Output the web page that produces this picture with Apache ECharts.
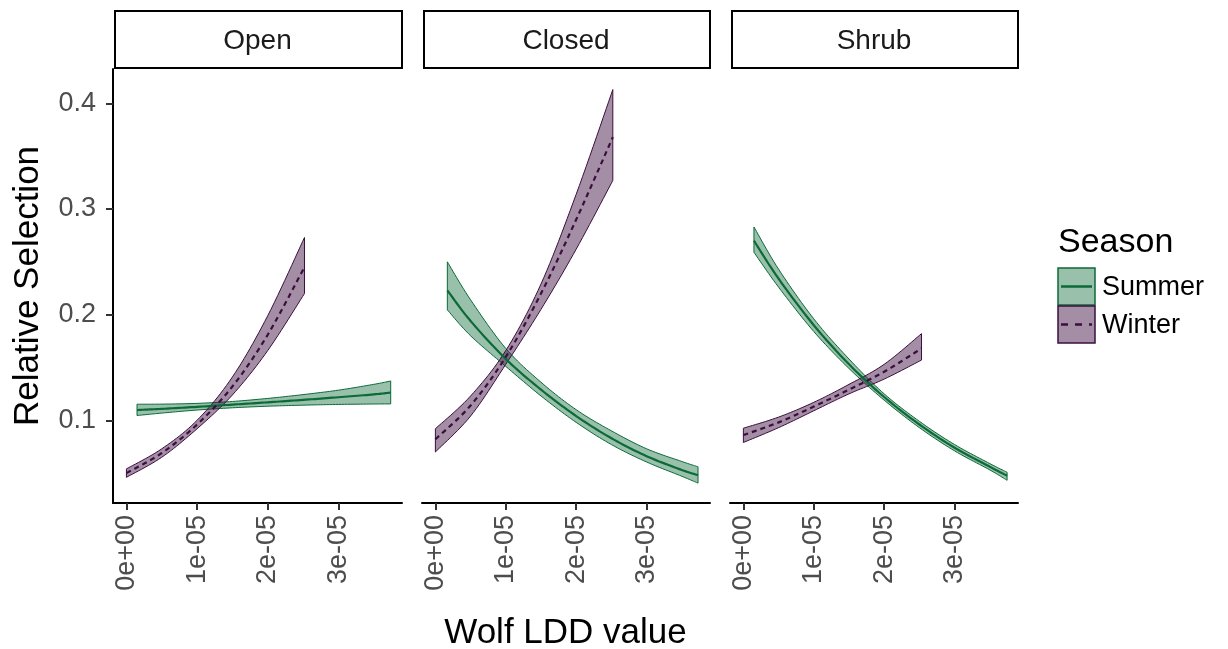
<!DOCTYPE html>
<html><head><meta charset="utf-8">
<script src="https://cdn.jsdelivr.net/npm/echarts@6/dist/echarts.min.js"></script>
<style>html,body{margin:0;padding:0;background:#fff}#c{width:1228px;height:649px}</style>
</head><body><div id="c"></div>
<script>
const panels = ['Open', 'Closed', 'Shrub'];
const seasons = ['Summer', 'Winter'];
const xTickValues = [0, 1e-5, 2e-5, 3e-5];
const xTickLabels = ['0e+00', '1e-05', '2e-05', '3e-05'];
const yTickValues = [0.1, 0.2, 0.3, 0.4];
const yTickLabels = ['0.1', '0.2', '0.3', '0.4'];

// Open
const openSummerX   = [0.15e-5, 0.5e-5, 1.0e-5, 1.5e-5, 2.0e-5, 2.5e-5, 3.0e-5, 3.5e-5, 3.74e-5];
const openSummerFit = [0.1097, 0.1108, 0.1127, 0.1148, 0.1170, 0.1193, 0.1218, 0.1245, 0.1262];
const openSummerLo  = [0.1045, 0.1068, 0.1097, 0.1118, 0.1133, 0.1143, 0.1150, 0.1154, 0.1155];
const openSummerHi  = [0.1152, 0.1153, 0.1160, 0.1178, 0.1207, 0.1243, 0.1285, 0.1340, 0.1372];
const openWinterX   = [0, 0.5e-5, 1.0e-5, 1.5e-5, 2.0e-5, 2.52e-5];
const openWinterFit = [0.050, 0.069, 0.096, 0.132, 0.181, 0.245];
const openWinterLo  = [0.046, 0.065, 0.092, 0.124, 0.166, 0.220];
const openWinterHi  = [0.054, 0.073, 0.100, 0.141, 0.199, 0.273];

// Closed
const closedSummerX   = [0.17e-5, 0.5e-5, 1.0e-5, 1.5e-5, 2.0e-5, 2.5e-5, 3.0e-5, 3.5e-5, 3.73e-5];
const closedSummerFit = [0.223, 0.194, 0.158, 0.129, 0.104, 0.083, 0.066, 0.053, 0.048];
const closedSummerLo  = [0.2045, 0.180, 0.151, 0.123, 0.098, 0.077, 0.0605, 0.047, 0.0405];
const closedSummerHi  = [0.250, 0.214, 0.168, 0.136, 0.110, 0.090, 0.073, 0.061, 0.056];
const closedWinterX   = [0, 0.5e-5, 1.0e-5, 1.5e-5, 2.0e-5, 2.52e-5];
const closedWinterFit = [0.082, 0.114, 0.160, 0.220, 0.290, 0.368];
const closedWinterLo  = [0.070, 0.104, 0.153, 0.205, 0.262, 0.327];
const closedWinterHi  = [0.092, 0.123, 0.166, 0.229, 0.314, 0.413];

// Shrub
const shrubSummerX   = [0.15e-5, 0.5e-5, 1.0e-5, 1.5e-5, 2.0e-5, 2.5e-5, 3.0e-5, 3.5e-5, 3.745e-5];
const shrubSummerFit = [0.270, 0.234, 0.190, 0.153, 0.122, 0.096, 0.074, 0.056, 0.0475];
const shrubSummerLo  = [0.259, 0.226, 0.184, 0.149, 0.119, 0.093, 0.071, 0.053, 0.0432];
const shrubSummerHi  = [0.283, 0.243, 0.196, 0.158, 0.125, 0.099, 0.077, 0.059, 0.0508];
const shrubWinterX   = [0, 0.5e-5, 1.0e-5, 1.5e-5, 2.0e-5, 2.53e-5];
const shrubWinterFit = [0.086, 0.098, 0.113, 0.129, 0.146, 0.168];
const shrubWinterLo  = [0.079, 0.093, 0.109, 0.125, 0.139, 0.157];
const shrubWinterHi  = [0.0925, 0.103, 0.117, 0.134, 0.153, 0.182];

const bands = [
  [ {x: openSummerX, fit: openSummerFit, lo: openSummerLo, hi: openSummerHi},
    {x: openWinterX, fit: openWinterFit, lo: openWinterLo, hi: openWinterHi} ],
  [ {x: closedSummerX, fit: closedSummerFit, lo: closedSummerLo, hi: closedSummerHi},
    {x: closedWinterX, fit: closedWinterFit, lo: closedWinterLo, hi: closedWinterHi} ],
  [ {x: shrubSummerX, fit: shrubSummerFit, lo: shrubSummerLo, hi: shrubSummerHi},
    {x: shrubWinterX, fit: shrubWinterFit, lo: shrubWinterLo, hi: shrubWinterHi} ]
];

const FONT = '"Liberation Sans", Arial, Helvetica, sans-serif';
const lineColor = {Summer: '#0b6a37', Winter: '#3c0e3f'};
const fillColor = {Summer: 'rgba(11,106,55,0.42)', Winter: 'rgba(60,14,63,0.47)'};

const gridTop = 69, gridH = 434;
const gridDefs = [{left: 113, width: 289}, {left: 422, width: 288}, {left: 730, width: 288}];
const X_MIN = -0.19e-5, X_MAX = 3.90e-5, Y_MIN = 0.0217, Y_MAX = 0.4325;

const grids = gridDefs.map(g => ({left: g.left, top: gridTop, width: g.width, height: gridH, outerBoundsMode: 'none', containLabel: false}));

const xAxes = gridDefs.map((g, i) => ({
  type: 'value', gridIndex: i, min: X_MIN, max: X_MAX,
  axisLine: {show: true, onZero: false, lineStyle: {color: '#000', width: 2}},
  axisTick: {show: true, length: 7, lineStyle: {color: '#333', width: 2}, customValues: xTickValues},
  axisLabel: {
    show: true, rotate: 90, margin: 12, color: '#4d4d4d', fontSize: 27, fontFamily: FONT,
    customValues: xTickValues,
    formatter: v => { const k = xTickValues.findIndex(t => Math.abs(t - v) < 1e-9); return k >= 0 ? xTickLabels[k] : ''; }
  },
  splitLine: {show: false}
}));

const yAxes = gridDefs.map((g, i) => ({
  type: 'value', gridIndex: i, min: Y_MIN, max: Y_MAX,
  axisLine: {show: i === 0, onZero: false, lineStyle: {color: '#000', width: 2}},
  axisTick: {show: i === 0, length: 7, lineStyle: {color: '#333', width: 2}, customValues: yTickValues},
  axisLabel: {
    show: i === 0, margin: 17, color: '#4d4d4d', fontSize: 27, fontFamily: FONT,
    customValues: yTickValues,
    formatter: v => { const k = yTickValues.findIndex(t => Math.abs(t - v) < 1e-9); return k >= 0 ? yTickLabels[k] : ''; }
  },
  splitLine: {show: false}
}));

// Catmull-Rom densification of pixel points (draws a smooth curve through the data points)
function smoothPts(pts, steps) {
  const out = [];
  for (let i = 0; i < pts.length - 1; i++) {
    const p0 = pts[Math.max(0, i - 1)], p1 = pts[i], p2 = pts[i + 1], p3 = pts[Math.min(pts.length - 1, i + 2)];
    for (let s = 0; s < steps; s++) {
      const t = s / steps, t2 = t * t, t3 = t2 * t;
      out.push([0, 1].map(d => 0.5 * ((2 * p1[d]) + (-p0[d] + p2[d]) * t + (2 * p0[d] - 5 * p1[d] + 4 * p2[d] - p3[d]) * t2 + (-p0[d] + 3 * p1[d] - 3 * p2[d] + p3[d]) * t3)));
    }
  }
  out.push(pts[pts.length - 1]);
  return out;
}

const bandSeries = [], lineSeries = [];
bands.forEach((pb, p) => {
  pb.forEach((b, s) => {
    const season = seasons[s];
    bandSeries.push({
      type: 'custom', name: season, xAxisIndex: p, yAxisIndex: p, silent: true, animation: false,
      data: b.x.map((x, k) => [x, b.lo[k], b.hi[k]]),
      encode: {x: 0, y: [1, 2]},
      renderItem: (params, api) => {
        if (params.dataIndex !== 0) return null;
        const up = smoothPts(b.x.map((x, k) => api.coord([x, b.hi[k]])), 12);
        const dn = smoothPts(b.x.map((x, k) => api.coord([x, b.lo[k]])), 12);
        return {type: 'polygon', shape: {points: up.concat(dn.reverse())},
          style: {fill: fillColor[season], stroke: lineColor[season], lineWidth: 1}};
      }
    });
    lineSeries.push({
      type: 'custom', name: season, xAxisIndex: p, yAxisIndex: p, silent: true, animation: false,
      data: b.x.map((x, k) => [x, b.fit[k]]),
      encode: {x: 0, y: 1},
      renderItem: (params, api) => {
        if (params.dataIndex !== 0) return null;
        const pts = smoothPts(b.x.map((x, k) => api.coord([x, b.fit[k]])), 12);
        return {type: 'polyline', shape: {points: pts},
          style: {fill: null, stroke: lineColor[season], lineWidth: 2.2, lineDash: season === 'Winter' ? [5, 4] : null}};
      }
    });
  });
});
const series = bandSeries.concat(lineSeries);

const graphic = [];
// facet strips
gridDefs.forEach((g, i) => {
  graphic.push({type: 'rect', left: g.left + 1, top: 10, silent: true,
    shape: {width: g.width - 2, height: 57},
    style: {fill: '#fff', stroke: '#000', lineWidth: 2}});
  graphic.push({type: 'text', x: g.left + g.width / 2, y: 41, silent: true,
    style: {text: panels[i], fill: '#1a1a1a', font: '28px ' + FONT, textAlign: 'center', textVerticalAlign: 'middle'}});
});
// axis titles
graphic.push({type: 'text', x: 28, y: gridTop + gridH / 2, rotation: Math.PI / 2, silent: true,
  style: {text: 'Relative Selection', fill: '#000', font: '35px ' + FONT, textAlign: 'center', textVerticalAlign: 'middle'}});
graphic.push({type: 'text', x: (gridDefs[0].left + gridDefs[2].left + gridDefs[2].width) / 2, y: 633, silent: true,
  style: {text: 'Wolf LDD value', fill: '#000', font: '35px ' + FONT, textAlign: 'center', textVerticalAlign: 'middle'}});
// legend
const LX = 1058, LY = 268, KS = 37;
graphic.push({type: 'text', x: LX, y: 243, silent: true,
  style: {text: 'Season', fill: '#000', font: '34px ' + FONT, textAlign: 'left', textVerticalAlign: 'middle'}});
seasons.forEach((season, i) => {
  const y0 = LY + i * (KS + 1);
  graphic.push({type: 'rect', x: LX, y: y0, silent: true, shape: {width: KS, height: KS},
    style: {fill: fillColor[season], stroke: lineColor[season], lineWidth: 1.5}});
  graphic.push({type: 'line', silent: true, shape: {x1: LX + 3, y1: y0 + KS / 2, x2: LX + KS - 3, y2: y0 + KS / 2},
    style: {stroke: lineColor[season], lineWidth: 2.5, lineDash: season === 'Winter' ? [7, 7] : null}});
  graphic.push({type: 'text', x: LX + KS + 7, y: y0 + KS / 2 + 1, silent: true,
    style: {text: season, fill: '#000', font: '27px ' + FONT, textAlign: 'left', textVerticalAlign: 'middle'}});
});

const chart = echarts.init(document.getElementById('c'), null, {renderer: 'canvas'});
chart.setOption({
  backgroundColor: '#fff',
  animation: false,
  grid: grids,
  xAxis: xAxes,
  yAxis: yAxes,
  series: series,
  graphic: graphic
});
</script>
</body></html>
